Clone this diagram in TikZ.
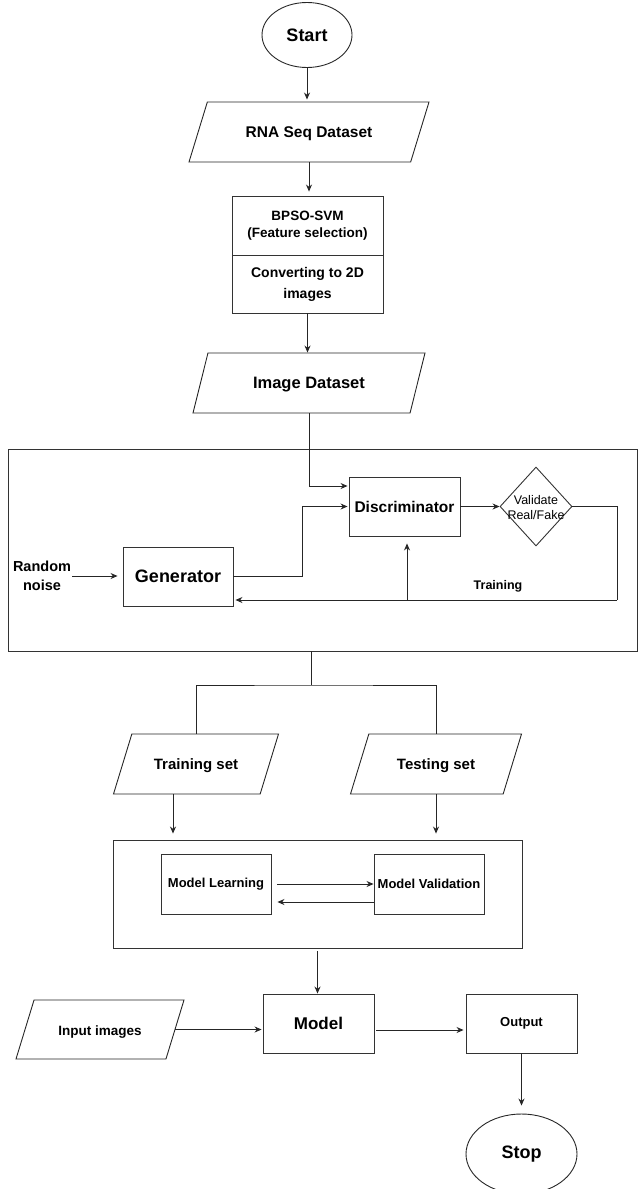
\documentclass[tikz,border=0pt]{standalone}
\usepackage{fontspec}
\setmainfont{Liberation Sans}
\usepackage{tikz}
\usetikzlibrary{positioning}
\usetikzlibrary{shapes.geometric,arrows.meta}

\newcommand{\fsz}[2]{\fontsize{#1}{#2}\selectfont}

\tikzset{
	box/.style={draw=black!80, line width=0.9pt, rectangle, minimum width=110pt, minimum height=59pt, inner sep=2pt, align=center},
	dataset/.style={draw=black!85, line width=0.9pt, trapezium, trapezium left angle=73, trapezium right angle=107, trapezium stretches body, text height=11pt, text depth=0pt, inner xsep=2pt, inner ysep=24.5pt, align=center},
	terminal/.style={draw=black!85, line width=0.9pt, ellipse, minimum width=90pt, minimum height=65pt, inner sep=0pt, font=\bfseries\fsz{18}{20}},
	decision/.style={draw=black!80, line width=0.9pt, diamond, minimum width=72pt, minimum height=79pt, inner sep=0pt},
	frame/.style={draw=black!80, line width=0.9pt, rectangle, inner sep=0pt},
	flow/.style={draw=black!85, line width=0.9pt},
	arr/.style={flow, -{Stealth[length=7pt,width=6pt]}},
}

\begin{document}
\begin{tikzpicture}[x=1pt,y=-1pt]
	\useasboundingbox (0,0) rectangle (638,1189);

	%Vertices
	\node[terminal] (Start) at (307,35) {Start};
	\node[dataset, minimum width=240pt, font=\bfseries\fsz{15.5}{18}] (RNA) at (309,132) {RNA Seq Dataset};
	\node[box, minimum width=151pt, font=\bfseries\fsz{13.5}{17}] (BPSO) at (307.5,225.5) {BPSO-SVM\\(Feature selection)};
	\node[box, minimum width=151pt, minimum height=58pt, font=\bfseries\fsz{14}{21}] (Conv) at (307.5,284) {Converting to 2D\\images};
	\node[dataset, minimum width=232pt, trapezium left angle=76, trapezium right angle=104, font=\bfseries\fsz{16.5}{19}] (ImgData) at (309,383) {Image Dataset};

	%GAN block
	\node[frame, minimum width=629pt, minimum height=202pt] (GAN) at (322.5,550) {};
	\node[align=center, inner sep=1pt, font=\bfseries\fsz{14.5}{19}] (Noise) at (42,576) {Random\\noise};
	\node[box, font=\bfseries\fsz{18}{20}] (Gen) at (178,576.5) {Generator};
	\node[box, minimum width=111pt, font=\bfseries\fsz{15.5}{18}] (Disc) at (404.5,506.5) {Discriminator};
	\node[decision, label={[font=\fsz{12.5}{15}, align=center, yshift=-1pt]center:Validate\\Real/Fake}] (Valid) at (536,506.5) {};
	\node[font=\bfseries\fsz{12.5}{15}] (TrainLbl) at (498,586) {Training};
	\coordinate (GBend) at (302,576.5);
	\coordinate (FB) at (617,600);
	\coordinate (FBup) at (407,600);

	%Split
	\coordinate (Split) at (311,685);
	\node[dataset, minimum width=165pt, font=\bfseries\fsz{15}{18}] (TrainSet) at (196,764) {Training set};
	\node[dataset, minimum width=171pt, font=\bfseries\fsz{15}{18}] (TestSet) at (436,764) {Testing set};
	\coordinate (TrOut) at (173,794);

	%Model block
	\node[frame, minimum width=409pt, minimum height=108pt] (Block) at (317.5,894) {};
	\node[box, minimum height=60pt, font=\bfseries\fsz{13}{15}] (Learn) at (216,884) {Model Learning};
	\node[box, minimum height=60pt, font=\bfseries\fsz{13}{15}] (Check) at (429,884) {Model Validation};

	%Use of the model
	\node[dataset, minimum width=168pt, inner ysep=24pt, font=\bfseries\fsz{13.5}{16}] (Input) at (100,1029.5) {Input images};
	\node[box, minimum width=111pt, font=\bfseries\fsz{17}{19}] (Model) at (318.5,1023.5) {Model};
	\node[box, minimum width=111pt, font=\bfseries\fsz{13}{15}] (Output) at (521.5,1023.5) {Output};
	\node[terminal, minimum width=111pt, minimum height=80pt] (Stop) at (521.5,1154) {Stop};

	%%%%%%%%%%%%%%%%%%%%%%%%%%%%%%%%%%%%%%%%%%%%%%%%%%%%
	%Connectors
	\draw[arr, shorten >=2pt] (Start.south) -- (Start.south |- RNA.north);
	\draw[arr, shorten >=4pt] (RNA.south) -- (RNA.south |- BPSO.north);
	\draw[arr] (Conv.south) -- (Conv.south |- ImgData.north);
	\draw[arr, shorten >=1pt] (ImgData.south) |- ([yshift=20.5pt]Disc.west);
	\draw[arr, shorten >=5pt] (Noise.east) -- (Noise.east -| Gen.west);
	\draw[arr, shorten >=1pt] (Gen.east) -- (GBend) |- (Disc.west);
	\draw[arr] (Disc.east) -- (Valid.west);
	\draw[flow] (Valid.east) -| (FB);
	\draw[arr, shorten >=2pt] (FB) -- (FB -| Gen.east); % back to the generator
	\draw[arr, shorten >=7pt] (FBup) -- (FBup |- Disc.south);

	\draw[flow] (GAN.south -| Split) -- (Split);
	\draw[flow] (TrainSet.north) |- (Split) -| (TestSet.north);
	\draw[arr, shorten >=6pt] (TrOut) -- (TrOut |- Block.north);
	\draw[arr, shorten >=6pt] (TestSet.south) -- (TestSet.south |- Block.north);
	\draw[arr, shorten <=6pt] (Learn.east) -- (Check.west);
	\draw[arr, shorten >=6pt] ([yshift=-18pt]Check.west) -- ([yshift=-18pt]Learn.east);

	\draw[arr, shorten <=3pt] (Block.south) -- (Block.south |- Model.north);
	\draw[arr, shorten >=1pt] (Input.east) -- (Input.east -| Model.west);
	\draw[arr, shorten <=2pt, shorten >=2pt] ([yshift=-6.5pt]Model.east) -- ([yshift=-6.5pt]Output.west);
	\draw[arr, shorten >=8pt] (Output.south) -- (Stop.north);
\end{tikzpicture}
\end{document}
